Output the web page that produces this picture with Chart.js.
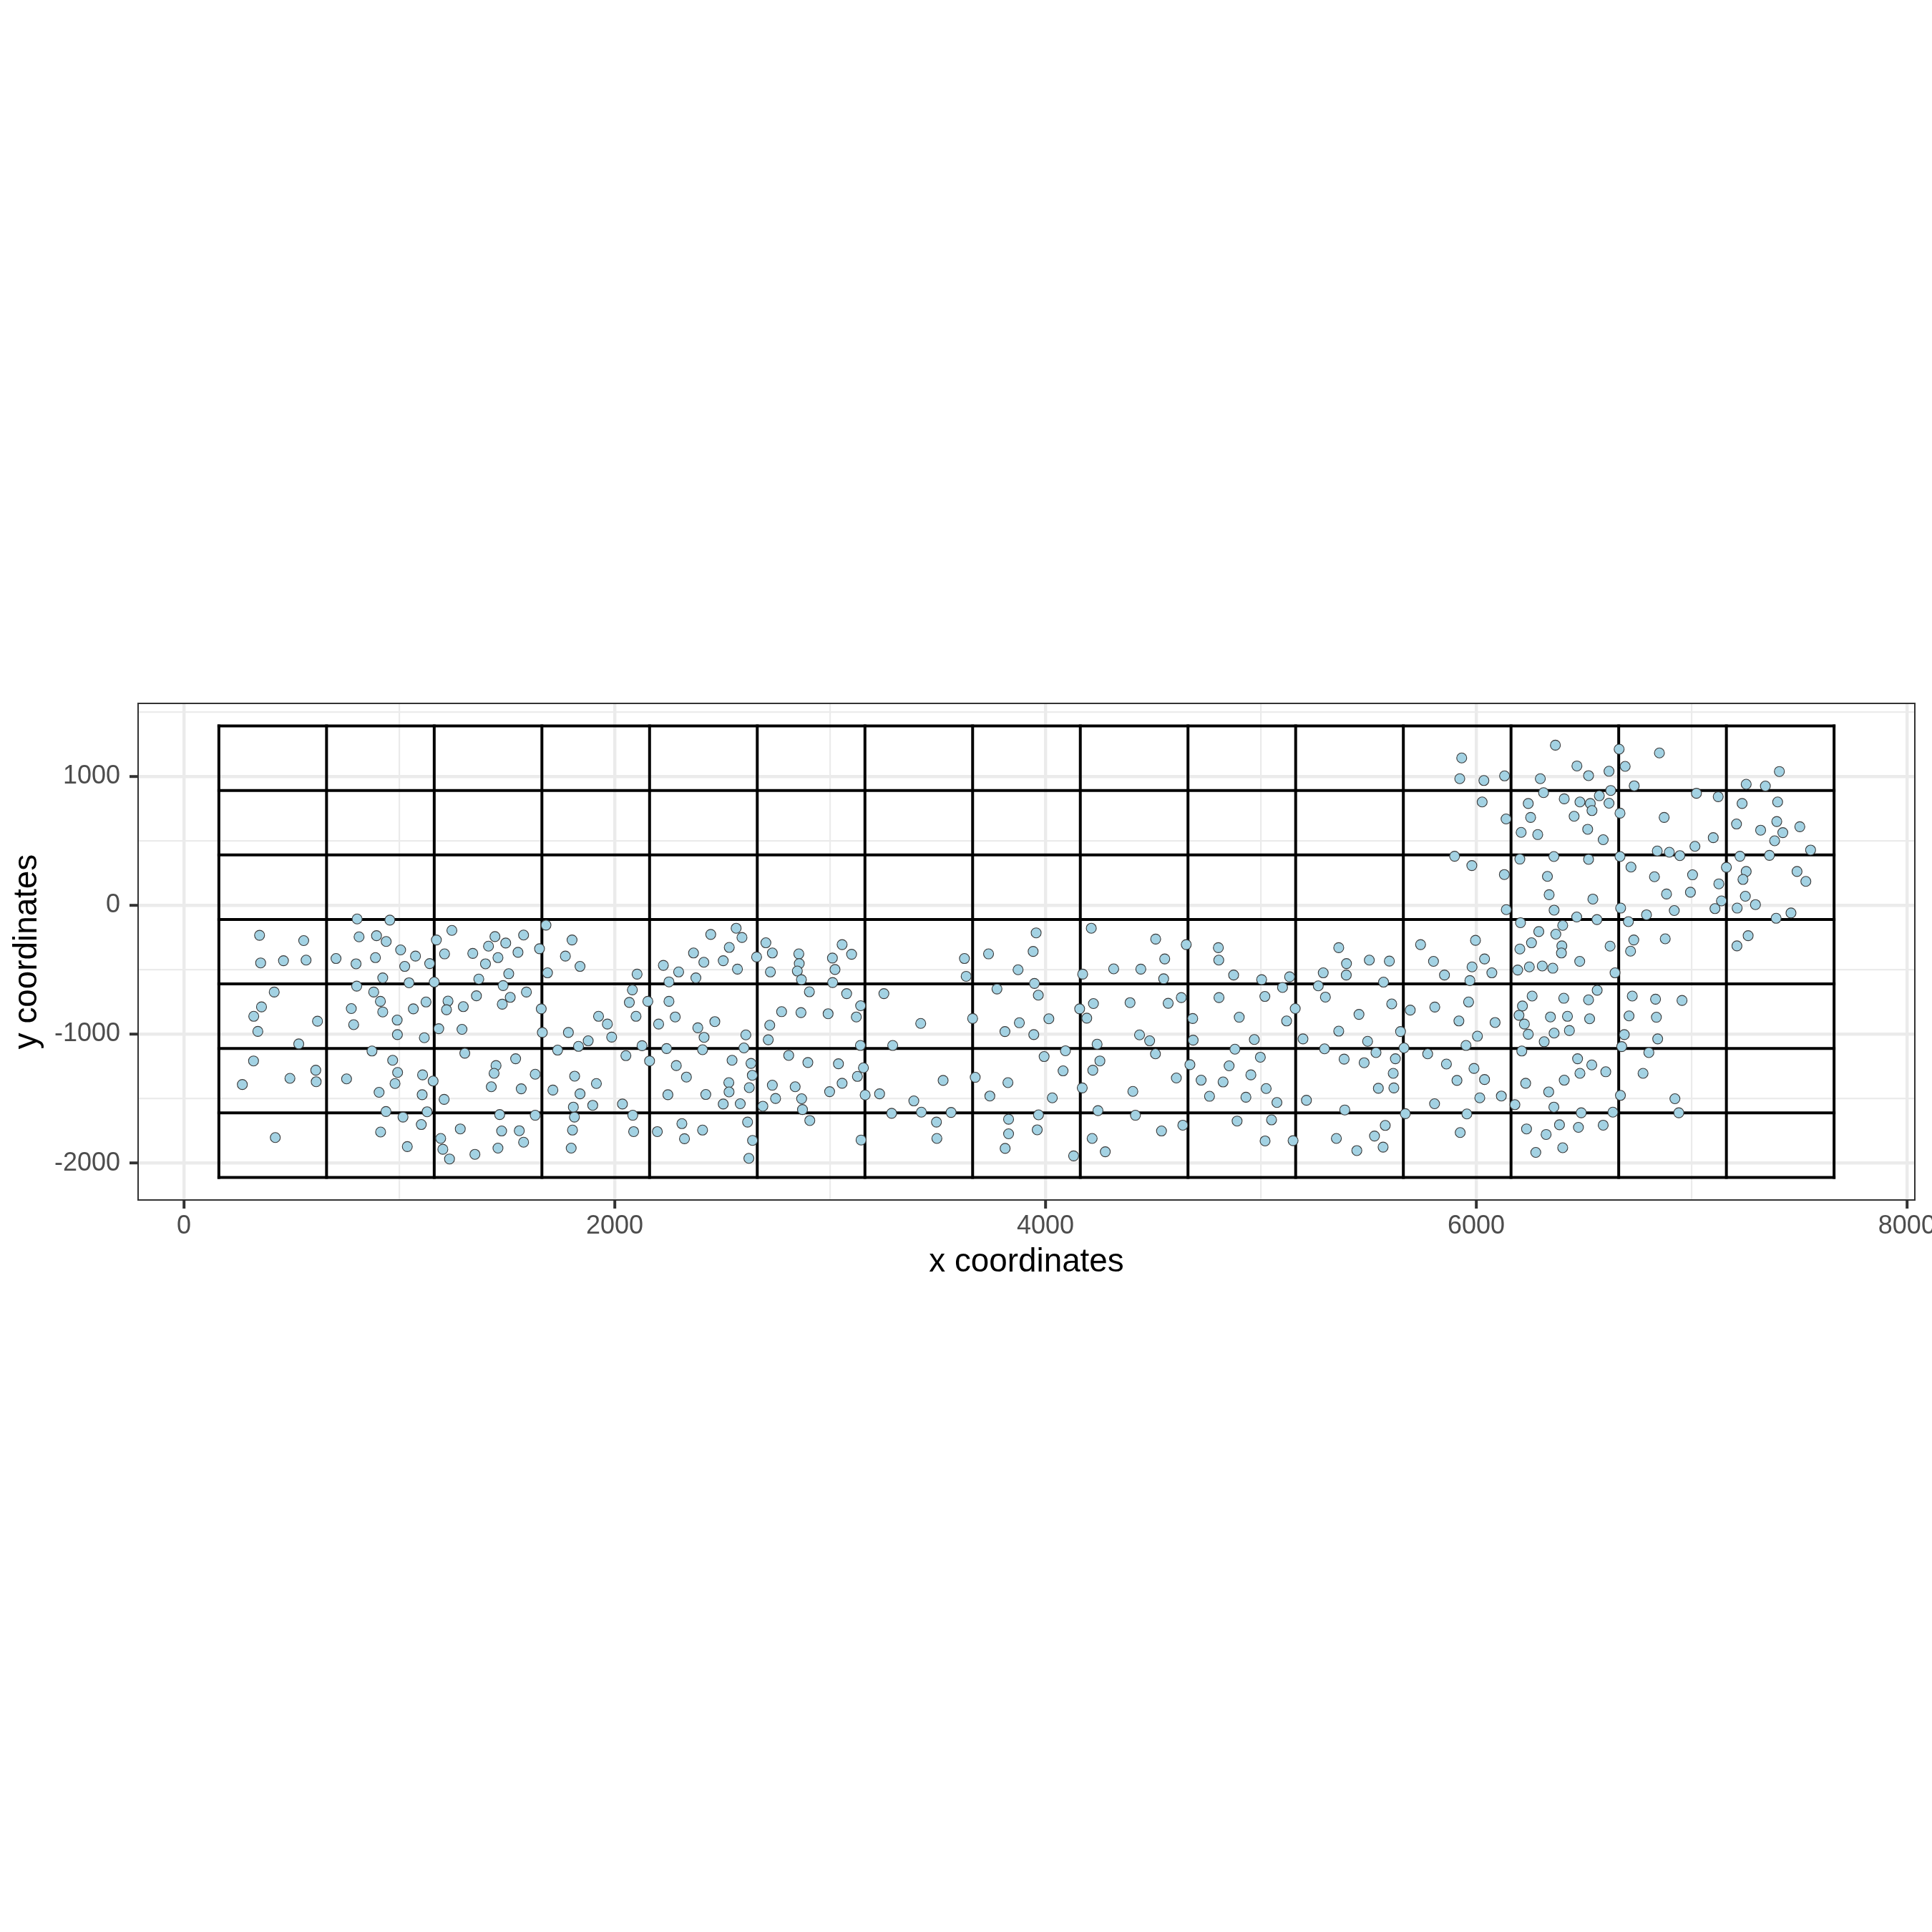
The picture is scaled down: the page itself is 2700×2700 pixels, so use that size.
<!DOCTYPE html>
<html><head><meta charset="utf-8">
<script src="https://cdn.jsdelivr.net/npm/chart.js@4.4.1/dist/chart.umd.min.js"></script>
<style>html,body{margin:0;padding:0;background:#fff;}#wrap{width:2700px;height:2700px;}</style>
</head><body><div id="wrap"><canvas id="c" width="2700" height="2700"></canvas></div>
<script>
// axis ticks
const xTicks = [0, 2000, 4000, 6000, 8000];
const xMinor = [1000, 3000, 5000, 7000];
const yTicks = [-2000, -1000, 0, 1000];
const yMinor = [-1500, -500, 500, 1500];
const xRange = [-213, 8037];
const yRange = [-2285, 1565];
// tiling grid edges
const gridXEdges = [162, 662, 1162, 1662, 2162, 2662, 3162, 3662, 4162, 4662, 5162, 5662, 6162, 6662, 7162, 7662];
const gridYEdges = [-2110, -1610, -1110, -610, -110, 390, 890, 1390];
// spot coordinates [x, y]
const spots = [
[804,-106],[351,-233],[556,-274],[813,-245],[356,-447],[462,-430],[567,-425],[706,-413],[799,-454],[802,-627],
[419,-673],[360,-788],[324,-861],[777,-801],[620,-899],[788,-926],[343,-978],[533,-1075],[323,-1207],[612,-1279],
[492,-1342],[271,-1390],[614,-1368],[755,-1346],[424,-1801],
[956,-115],[894,-236],[939,-281],[1006,-346],[1075,-394],[889,-406],[1025,-474],[1141,-452],[923,-563],[1045,-601],
[1162,-596],[1172,-269],[1244,-195],[1210,-377],[1341,-373],[1444,-243],[1414,-317],[1494,-293],[1577,-231],[1551,-365],
[1400,-454],[1458,-406],[1369,-572],[1508,-531],[1482,-623],[1681,-154],[1651,-337],[1688,-524],[1802,-269],[1771,-394],
[1839,-474],[881,-673],[912,-745],[923,-827],[990,-890],[991,-1003],[1065,-803],[1124,-750],[1116,-1027],[1226,-743],
[1219,-810],[1297,-786],[1183,-957],[1291,-962],[1358,-702],[1478,-767],[1515,-714],[1590,-673],[1659,-803],[1664,-986],
[1785,-986],[1832,-1094],[873,-1130],[969,-1202],[992,-1296],[980,-1382],[906,-1450],[1108,-1315],[1106,-1469],[1157,-1363],
[1208,-1505],[1304,-1147],[1449,-1243],[1440,-1303],[1427,-1407],[1540,-1190],[1631,-1310],[1566,-1423],[1713,-1433],[1735,-1123],
[1814,-1325],[1839,-1462],[938,-1599],[1017,-1642],[1129,-1601],[1102,-1700],[913,-1758],[1037,-1871],[1192,-1808],[1202,-1892],
[1233,-1967],[1283,-1734],[1351,-1931],[1466,-1623],[1475,-1750],[1458,-1883],[1557,-1748],[1577,-1837],[1631,-1628],[1808,-1565],
[1813,-1642],[1804,-1743],[1798,-1883],
[1877,-1051],[1925,-861],[1966,-921],[1986,-1022],[1915,-1382],[1898,-1551],[2052,-1166],[2127,-1089],[2036,-1541],[2084,-1628],
[2088,-1755],[2104,-534],[2082,-656],[2068,-753],[2099,-861],[2154,-745],[2162,-1207],[2226,-466],[2297,-517],[2252,-594],
[2252,-745],[2281,-866],[2204,-921],[2241,-1111],[2286,-1243],[2333,-1332],[2247,-1469],[2198,-1755],[2312,-1693],[2324,-1810],
[2408,-1743],[2446,-226],[2366,-370],[2414,-442],[2377,-563],[2504,-430],[2532,-327],[2564,-178],[2591,-250],[2570,-495],
[2659,-401],[2702,-291],[2732,-370],[2723,-517],[2386,-950],[2415,-1024],[2408,-1120],[2465,-902],[2545,-1202],[2530,-1375],
[2531,-1447],[2504,-1541],[2423,-1467],[2583,-1539],[2609,-1005],[2600,-1106],[2633,-1226],[2639,-1318],[2625,-1414],[2617,-1681],
[2640,-1823],[2623,-1962],[2688,-1558],[2720,-930],[2713,-1043],[2775,-825],[2865,-832],[2808,-1164],[2732,-1395],[2747,-1498],
[2838,-1407],[2868,-1500],[2872,-1584],[2855,-377],[2857,-452],[2848,-510],[2867,-577],
[2904,-671],[2897,-1219],[2906,-1669],[3011,-409],[3056,-305],[3100,-380],[3023,-498],[3012,-599],[3077,-685],[2991,-841],
[3122,-866],[3142,-779],[3141,-1087],[3039,-1229],[3056,-1380],[2998,-1445],[3127,-1327],[3155,-1260],[3163,-1471],[3144,-1820],
[3250,-685],[3230,-1462],[3291,-1087],[3286,-1613],[3421,-916],[3389,-1517],[3424,-1604],[3525,-1358],[3494,-1681],[3496,-1808],
[3562,-1606],[3624,-413],[3632,-551],[3662,-878],[3674,-1334],[3736,-377],[3873,-500],[3775,-649],[3812,-979],[3879,-911],
[3742,-1479],[3826,-1375],[3829,-1659],[3829,-1772],[3813,-1885],
[3957,-214],[3943,-358],[3949,-606],[3967,-697],[4016,-880],[3946,-1003],[3994,-1173],[4093,-1128],[4082,-1284],[4032,-1493],
[3968,-1625],[3962,-1741],[4131,-1943],[4213,-178],[4173,-534],[4159,-803],[4223,-762],[4192,-875],[4240,-1077],[4253,-1207],
[4220,-1279],[4171,-1416],[4244,-1592],[4217,-1808],[4278,-1911],[4317,-493],[4443,-495],[4393,-755],[4512,-262],[4554,-416],
[4549,-570],[4570,-760],[4631,-716],[4437,-1005],[4484,-1051],[4511,-1152],[4406,-1443],[4418,-1628],[4539,-1750],[4608,-1339],
[4638,-1705],[4654,-305],[4684,-878],[4686,-1046],[4671,-1236],[4723,-1356],[4762,-1481],[4803,-329],[4805,-425],[4874,-541],
[4806,-716],[4900,-868],[4880,-1116],[4853,-1245],[4825,-1370],[4931,-1488],[4890,-1673],
[4970,-1041],[4954,-1315],[5004,-577],[5019,-707],[4998,-1178],[5025,-1421],[5075,-1529],[5050,-1664],[5020,-1827],[5101,-637],
[5134,-555],[5120,-897],[5160,-801],[5196,-1036],[5212,-1512],[5150,-1825],[5267,-625],[5290,-524],[5300,-712],[5362,-329],
[5398,-452],[5397,-541],[5296,-1113],[5362,-976],[5387,-1193],[5390,-1587],[5351,-1808],[5446,-1902],[5456,-846],[5504,-425],
[5597,-433],[5570,-596],[5608,-765],[5496,-1055],[5535,-1142],[5480,-1221],[5528,-1789],[5578,-1707],[5568,-1875],[5546,-1419],
[5625,-1190],[5615,-1303],[5618,-1416],[5649,-979],[5665,-1106],[5671,-1616],[5694,-813],[5742,-305],[5802,-435],[5853,-541],
[5808,-789],[5775,-1152],[5862,-1231],[5911,-1358],[5807,-1539],[5920,-897],[5965,-750],[5953,-1087],[5933,1142],[5924,981],
[5900,380],[5957,-1618],[5926,-1762],
[6368,1241],[6468,1080],[6522,1005],[6617,1039],[6664,1210],[6692,1077],[6851,1181],[6036,967],[6132,1003],[6298,981],
[6734,926],[6313,873],[6409,825],[6482,801],[6530,789],[6538,734],[6572,849],[6625,890],[6617,791],[6668,714],
[6028,801],[6139,669],[6242,789],[6253,681],[6209,565],[6286,548],[6455,690],[6518,589],[6590,508],[6873,681],
[5980,308],[6203,358],[6361,378],[6522,356],[6668,378],[6719,296],[6841,421],[6897,411],[6946,385],[6131,238],
[6331,224],[6339,82],[6542,48],[6362,-38],[6140,-34],[6467,-91],[6561,-111],[6671,-22],[6828,221],[6884,87],
[6920,-41],[6791,-74],[6995,101],[6206,-135],[6402,-156],[6291,-204],[6370,-224],[5997,-272],[6257,-291],[6203,-339],
[6398,-315],[6396,-370],[6622,-317],[6707,-127],[6732,-269],[6717,-356],[6878,-260],[6039,-416],[5981,-478],[6073,-524],
[6193,-502],[6247,-478],[6307,-471],[6356,-488],[6481,-435],[6645,-524],[5971,-584],[6260,-704],[6215,-781],[6199,-853],
[6224,-921],[6242,-1000],[6088,-909],[6006,-1015],[6316,-1058],[6345,-866],[6407,-721],[6424,-861],[6362,-991],[6433,-971],
[6522,-733],[6562,-659],[6527,-880],[6725,-704],[6710,-858],[6688,-1003],[6676,-1096],[6833,-728],[6837,-868],[6843,-1036],
[6956,-738],[6212,-1130],[5990,-1265],[6039,-1351],[6017,-1493],[6117,-1479],[6180,-1546],[6230,-1380],[6337,-1447],[6361,-1565],
[6409,-1356],[6471,-1190],[6537,-1238],[6482,-1303],[6602,-1291],[6488,-1609],[6635,-1604],[6670,-1474],[6802,-1142],[6775,-1303],
[6923,-1500],[6941,-1609],[6234,-1734],[6325,-1777],[6387,-1702],[6475,-1722],[6590,-1705],[6277,-1916],[6402,-1880],
[7023,868],[7124,842],[7254,938],[7343,924],[7408,1037],[7235,789],[7400,801],[7209,630],[7321,582],[7396,649],
[7424,563],[7503,609],[7386,500],[7101,524],[7016,457],[7553,428],[7225,380],[7362,387],[7162,294],[7005,236],
[7254,262],[7239,200],[7490,262],[7531,185],[7127,166],[7139,34],[7109,-26],[7250,70],[7297,5],[7212,-22],
[7393,-101],[7462,-60],[7263,-236],[7211,-315]
];

// build line segments of the tiling grid (null breaks the line)
const vSeg = [], hSeg = [];
const yLo = gridYEdges[0], yHi = gridYEdges[gridYEdges.length - 1];
const xLo = gridXEdges[0], xHi = gridXEdges[gridXEdges.length - 1];
gridXEdges.forEach(g => { vSeg.push({x: g, y: yLo}, {x: g, y: yHi}, {x: g, y: null}); });
gridYEdges.forEach(g => { hSeg.push({x: xLo, y: g}, {x: xHi, y: g}, {x: null, y: null}); });

const FONT = 'Liberation Sans, Arial, Helvetica, sans-serif';
const panelBorder = {
  id: 'panelBorder',
  afterDraw(chart) {
    const {ctx, chartArea: a} = chart;
    ctx.save();
    ctx.strokeStyle = '#333333';
    ctx.lineWidth = 2;
    ctx.strokeRect(a.left, a.top, a.right - a.left, a.bottom - a.top);
    ctx.restore();
  }
};
const isMajorX = v => xTicks.includes(v);
const isMajorY = v => yTicks.includes(v);

new Chart(document.getElementById('c'), {
  type: 'scatter',
  data: {
    datasets: [
      {
        data: spots.map(p => ({x: p[0], y: p[1]})),
        backgroundColor: '#A3D2E3',
        borderColor: '#3a3a3a',
        borderWidth: 1.1,
        pointRadius: 7,
        pointHoverRadius: 7,
        order: 0
      },
      {
        data: vSeg, showLine: true, spanGaps: false, pointRadius: 0,
        borderColor: '#000000', borderWidth: 4, borderCapStyle: 'square', order: 1
      },
      {
        data: hSeg, showLine: true, spanGaps: false, pointRadius: 0,
        borderColor: '#000000', borderWidth: 4, borderCapStyle: 'square', order: 1
      }
    ]
  },
  options: {
    responsive: false,
    animation: false,
    devicePixelRatio: 1,
    layout: {padding: {left: 0, top: 983, right: 24, bottom: 908}},
    plugins: {legend: {display: false}, tooltip: {enabled: false}},
    scales: {
      x: {
        type: 'linear', min: xRange[0], max: xRange[1],
        afterBuildTicks: s => { s.ticks = xTicks.concat(xMinor).sort((a, b) => a - b).map(v => ({value: v})); },
        afterFit: s => { s.height = 115; s.paddingLeft = 0; s.paddingRight = 0; },
        ticks: {
          autoSkip: false, maxRotation: 0, minRotation: 0, padding: 3,
          color: '#4D4D4D', font: {family: FONT, size: 36},
          callback: v => isMajorX(v) ? String(v) : ''
        },
        grid: {
          color: '#EBEBEB',
          lineWidth: c => (c.tick && isMajorX(c.tick.value)) ? 4.4 : 2.2,
          tickLength: 12,
          tickWidth: 4,
          tickColor: c => (c.tick && isMajorX(c.tick.value)) ? '#333333' : 'rgba(0,0,0,0)'
        },
        border: {display: false},
        title: {display: true, text: 'x coordinates', color: '#000000', font: {family: FONT, size: 45.8}, padding: {top: 0, bottom: 0}}
      },
      y: {
        type: 'linear', min: yRange[0], max: yRange[1],
        afterBuildTicks: s => { s.ticks = yTicks.concat(yMinor).sort((a, b) => a - b).map(v => ({value: v})); },
        afterFit: s => { s.width = 193; s.paddingTop = 0; s.paddingBottom = 0; },
        ticks: {
          autoSkip: false, padding: 13,
          color: '#4D4D4D', font: {family: FONT, size: 36},
          callback: v => isMajorY(v) ? String(v) : ''
        },
        grid: {
          color: '#EBEBEB',
          lineWidth: c => (c.tick && isMajorY(c.tick.value)) ? 4.4 : 2.2,
          tickLength: 12,
          tickWidth: 4,
          tickColor: c => (c.tick && isMajorY(c.tick.value)) ? '#333333' : 'rgba(0,0,0,0)'
        },
        border: {display: false},
        title: {display: true, text: 'y coordinates', color: '#000000', font: {family: FONT, size: 45.8}, padding: {top: 11, bottom: 0}}
      }
    }
  },
  plugins: [panelBorder]
});
</script>
</body></html>
